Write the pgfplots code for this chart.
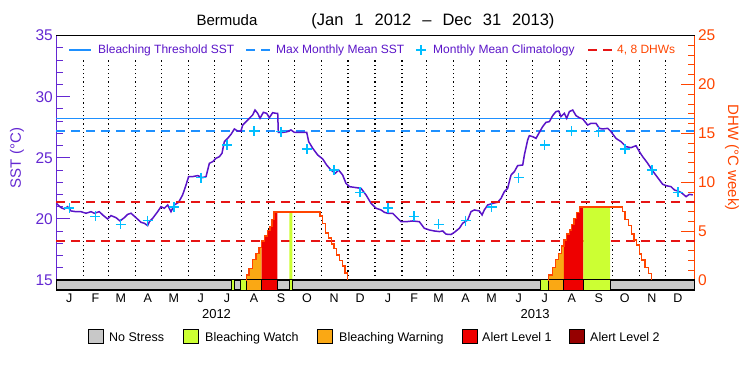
\documentclass[border=0pt]{standalone}
\usepackage{pgfplots}
\pgfplotsset{compat=1.18}
\usepackage{fontspec}
\setmainfont{Liberation Sans}

\definecolor{sstc}{RGB}{90,20,200}
\definecolor{axl}{RGB}{100,40,210}
\definecolor{dhwc}{RGB}{255,69,0}
\definecolor{redd}{RGB}{230,20,20}
\definecolor{btc}{RGB}{30,144,255}
\definecolor{climc}{RGB}{0,190,255}
\definecolor{nsgray}{RGB}{200,200,200}
\definecolor{bwatch}{RGB}{204,255,51}
\definecolor{bwarn}{RGB}{250,168,20}
\definecolor{alone}{RGB}{238,0,0}
\definecolor{altwo}{RGB}{150,0,0}

\newcommand{\fs}[1]{\fontsize{#1}{#1}\selectfont}

\begin{document}
\begin{tikzpicture}
\path[use as bounding box] (-56.3bp,-85bp) rectangle (693.7bp,290bp);

% ---------------- SST axis (left) ----------------
\begin{axis}[
  at={(0,0)}, anchor=south west,
  scale only axis, width=638.2bp, height=254.4bp,
  xmin=0, xmax=733, ymin=14.18, ymax=35,
  clip=false,
  axis x line*=bottom, axis y line*=left,
  x axis line style={draw=none},
  xtick={15,45,74,105,135,166,196,227,258,288,319,349,381,411,439,470,500,531,561,592,623,653,684,714},
  xticklabels={J,F,M,A,M,J,J,A,S,O,N,D,J,F,M,A,M,J,J,A,S,O,N,D},
  xtick style={draw=none},
  xticklabel style={font=\fs{12.5bp}, anchor=north, inner sep=0pt, yshift=-3.5bp},
  ytick={15,20,25,30,35},
  minor ytick={16,17,18,19,21,22,23,24,26,27,28,29,31,32,33,34},
  tick align=inside, major tick length=14bp, minor tick length=7bp,
  y axis line style={axl, line width=1bp},
  ytick style={axl, line width=1bp},
  yticklabel style={font=\fs{15.5bp}, text=axl},
  /pgf/number format/assume math mode=true,
  ylabel={SST (°C)},
  ylabel style={font=\fs{15bp}, text=axl, at={(axis description cs:-0.0616,0.519)}, anchor=center},
]
% month boundaries
\pgfplotsinvokeforeach{31,60,91,121,152,182,213,244,274,305,335,366,397,425,456,486,517,547,578,609,639,670,700}{
  \addplot[black, line width=1.2bp, dash pattern=on 1.2bp off 3bp] coordinates {(#1,15) (#1,33.2)};
}
% bleaching threshold and MMM
\addplot[btc, line width=1.5bp] coordinates {(0,28.2) (733,28.2)};
\addplot[btc, line width=1.5bp, dash pattern=on 9bp off 6bp] coordinates {(0,27.2) (733,27.2)};
% SST
\addplot[sstc, line width=1.5bp] coordinates {
(0,21.27) (5.4,20.92) (9.2,20.81) (13,21.0) (16.9,20.65) (22.6,20.59) (28.4,20.59) (34.1,20.46)
(39.9,20.59) (43.7,20.46) (49.4,20.59) (53.3,20.32) (59,19.99) (62.8,20.27) (68.6,20.1) (73.2,19.83)
(78.1,20.1) (82,20.37) (85.8,20.46) (91.5,20.1) (97.3,19.72) (101.1,19.64) (104.9,19.45) (106.9,19.77)
(110.7,20.05) (116.4,20.59) (120.3,21.0) (124.1,20.87) (127.9,21.14) (131.7,20.59) (135.6,21.14) (140.5,21.36)
(145.1,21.96) (149,22.78) (152,23.46) (156.6,23.46) (162.4,23.54) (168.1,23.38) (172,23.46) (175.8,24.55)
(179.6,24.68) (183.4,24.96) (187.3,25.09) (190.3,25.37) (193,26.32) (196.8,26.59) (200.7,26.92) (204.5,27.36)
(208.3,27.19) (212.1,27.19) (214.1,27.68) (219.8,28.09) (225.5,28.5) (228.2,28.91) (231.3,28.64) (234,28.23)
(237.8,28.72) (241.6,28.64) (244.7,28.28) (248.5,28.69) (252.3,28.64) (254.3,28.64) (255,27.08) (260,27.08)
(265.7,27.14) (269.6,27.28) (273.4,27.08) (279.1,27.08) (287.6,27.08) (289.9,26.32) (294.5,25.78) (300.2,25.23)
(306,24.9) (310.5,24.41) (315.5,24.0) (320.5,23.73) (324.3,24.0) (328.9,23.59) (332.7,22.91) (336.6,22.64)
(344.2,22.56) (350,22.5) (355.7,21.96) (361.5,21.27) (367.2,20.87) (373,20.73) (376.8,20.54) (380.6,20.46)
(386.3,20.46) (392.1,20.05) (395.9,19.77) (401.7,19.77) (409.3,19.83) (417,19.77) (422.7,19.23) (428.5,19.09)
(434.2,19.01) (440,18.96) (443.8,19.01) (447.6,18.75) (453.3,18.72) (457.2,18.9) (462.9,19.23) (466.7,19.64)
(472.5,19.91) (476.3,20.59) (480.1,20.73) (485.9,20.65) (489,20.32) (491.6,20.73) (495.5,21.14) (501.2,21.27)
(507,21.36) (510.8,21.68) (514.6,22.23) (518.4,22.5) (520.3,23.05) (522.3,23.59) (526.1,23.87) (529.9,24.36)
(535.7,24.41) (537.6,25.23) (541.4,26.46) (543.3,26.81) (547.1,26.73) (551,26.59) (554.8,27.08) (558.6,27.55)
(562.4,27.9) (566.3,27.96) (570.1,28.45) (573.9,28.78) (577,28.83) (579.7,28.37) (583.5,28.64) (586.2,28.23)
(589.3,28.78) (593.1,28.91) (596.9,28.45) (600.7,28.28) (604.6,28.18) (610.3,27.68) (614.1,27.82) (619.9,27.82)
(623.7,27.41) (627.5,27.36) (633.3,27.41) (637.1,27.14) (642.8,26.59) (648.6,26.32) (654.3,25.91) (660.1,25.83)
(665.8,25.99) (669.7,25.5) (673.5,25.09) (679.2,24.55) (685,23.92) (690.7,23.38) (696.5,22.83) (700.3,22.72)
(706,22.64) (709.9,22.37) (713.7,22.28) (717.5,22.17) (723.3,21.82) (727.1,22.01) (731,21.96)
};
% climatology
\addplot[only marks, mark=+, mark size=5bp, climc, mark options={line width=1.4bp}] coordinates {
(15,20.89) (45,20.2) (74,19.56) (105,19.85) (135,20.96) (166,23.38) (196,26.05) (227,27.19) (258,27.14) (288,25.72) (319,24.0) (349,22.17)
(381,20.89) (411,20.2) (439,19.56) (470,19.85) (500,20.96) (531,23.38) (561,26.05) (592,27.19) (623,27.14) (653,25.72) (684,24.0) (714,22.17)
};
\node[font=\fs{13bp}, anchor=north, inner sep=0pt] at (axis cs:184,14.18) [yshift=-19.5bp] {2012};
\node[font=\fs{13bp}, anchor=north, inner sep=0pt] at (axis cs:550,14.18) [yshift=-19.5bp] {2013};
\end{axis}

% ---------------- DHW axis (right) ----------------
\begin{axis}[
  at={(0,0)}, anchor=south west,
  scale only axis, width=638.2bp, height=254.4bp,
  xmin=0, xmax=733, ymin=-1.023, ymax=25,
  clip=false,
  axis x line=none, axis y line*=right,
  ytick={0,5,10,15,20,25},
  minor ytick={1,2,3,4,6,7,8,9,11,12,13,14,16,17,18,19,21,22,23,24},
  tick align=inside, major tick length=14bp, minor tick length=7bp,
  y axis line style={dhwc, line width=1bp},
  ytick style={dhwc, line width=1bp},
  yticklabel style={font=\fs{15.5bp}, text=dhwc},
  /pgf/number format/assume math mode=true,
  ylabel={DHW (°C week)},
  ylabel style={font=\fs{15bp}, text=dhwc, at={(axis description cs:1.0588,0.52)}, anchor=center, rotate=180},
]
% 4 and 8 DHW lines
\addplot[redd, line width=1.8bp, dash pattern=on 9bp off 6bp] coordinates {(0,4) (733,4)};
\addplot[redd, line width=1.8bp, dash pattern=on 9bp off 6bp] coordinates {(0,8) (733,8)};
% fills under DHW by alert level
\addplot[const plot, fill=bwarn, draw=none] coordinates {(218.5,0.5) (221.3,1.2) (225.6,2.1) (229.4,2.7) (232.8,3.35) (235.9,3.35)} \closedcycle;
\addplot[const plot, fill=alone, draw=none] coordinates {(235.9,4.0) (239.3,4.5) (242.3,5.05) (245.4,5.5) (247.7,6.2) (250,6.95) (253.8,6.95)} \closedcycle;
\addplot[const plot, fill=bwatch, draw=none] coordinates {(267.6,6.95) (271,6.95)} \closedcycle;
\addplot[const plot, fill=bwarn, draw=none] coordinates {(565.3,0.5) (569.7,1.3) (573.6,2.1) (577,2.73) (580.5,3.48) (583.1,3.48)} \closedcycle;
\addplot[const plot, fill=alone, draw=none] coordinates {(583.1,4.1) (586.2,4.7) (589.2,5.1) (592,5.7) (594.6,6.3) (597.7,6.9) (600.7,7.45) (605.3,7.45)} \closedcycle;
\addplot[const plot, fill=bwatch, draw=none] coordinates {(605.3,7.45) (636,7.45)} \closedcycle;
% status bar
\addplot[fill=nsgray, draw=black, line width=1.4bp] coordinates {(0,-1.023) (733,-1.023) (733,0) (0,0)} -- cycle;
\addplot[fill=bwatch, draw=black, line width=1bp] coordinates {(201.4,-1.023) (204.4,-1.023) (204.4,0) (201.4,0)} -- cycle;
\addplot[fill=bwatch, draw=black, line width=1bp] coordinates {(211.8,-1.023) (218.5,-1.023) (218.5,0) (211.8,0)} -- cycle;
\addplot[fill=bwarn, draw=black, line width=1bp] coordinates {(218.5,-1.023) (235.9,-1.023) (235.9,0) (218.5,0)} -- cycle;
\addplot[fill=alone, draw=black, line width=1bp] coordinates {(235.9,-1.023) (253.8,-1.023) (253.8,0) (235.9,0)} -- cycle;
\addplot[fill=bwatch, draw=black, line width=1bp] coordinates {(267.6,-1.023) (271,-1.023) (271,0) (267.6,0)} -- cycle;
\addplot[fill=bwatch, draw=black, line width=1bp] coordinates {(556.3,-1.023) (565.3,-1.023) (565.3,0) (556.3,0)} -- cycle;
\addplot[fill=bwarn, draw=black, line width=1bp] coordinates {(565.3,-1.023) (583.1,-1.023) (583.1,0) (565.3,0)} -- cycle;
\addplot[fill=alone, draw=black, line width=1bp] coordinates {(583.1,-1.023) (605.3,-1.023) (605.3,0) (583.1,0)} -- cycle;
\addplot[fill=bwatch, draw=black, line width=1bp] coordinates {(605.3,-1.023) (636,-1.023) (636,0) (605.3,0)} -- cycle;
% DHW line
\addplot[const plot, dhwc, line width=1.4bp] coordinates {
(218.4,0) (218.5,0.5) (221.3,1.2) (225.6,2.1) (229.4,2.7) (232.8,3.35) (235.9,4.0) (239.3,4.5) (242.3,5.05)
(245.4,5.5) (247.7,6.2) (250,6.95) (302.9,6.55) (306,5.8) (309.4,4.8) (312.4,4.3) (316.3,3.7) (318.9,3.25)
(322,2.55) (325,2.0) (328.5,1.45) (331.6,0.7) (334.2,0) };
\addplot[const plot, dhwc, line width=1.4bp] coordinates {
(565.2,0) (565.3,0.5) (569.7,1.3) (573.6,2.1) (577,2.73) (580.5,3.48) (583.1,4.1) (586.2,4.7) (589.2,5.1)
(592,5.7) (594.6,6.3) (597.7,6.9) (600.7,7.45) (650.1,7.0) (653.1,6.2) (656.9,5.6) (660.8,4.7) (663.5,4.1)
(666.6,3.58) (669.6,2.66) (672.3,2.05) (676.1,1.3) (679.9,0.68) (683.8,0) };
\draw[black, line width=1.4bp] (rel axis cs:0,1) -- (rel axis cs:1,1);
\end{axis}

% ---------------- title ----------------
\node[anchor=base, inner sep=0pt] at (319.2bp,264.5bp)
  {\fs{15bp}Bermuda\hspace{54bp}{\fs{16.5bp}\spaceskip=11bp (Jan 1 2012 – Dec 31 2013)}};

% ---------------- top legend ----------------
\draw[btc, line width=1.5bp] (12.7bp,240bp) -- (34.7bp,240bp);
\node[anchor=base west, inner sep=0pt, text=sstc, font=\fs{12bp}] at (41.7bp,236bp) {Bleaching Threshold SST};
\draw[btc, line width=1.5bp, dash pattern=on 9bp off 6bp] (189.7bp,240bp) -- (213.7bp,240bp);
\node[anchor=base west, inner sep=0pt, text=sstc, font=\fs{12bp}] at (219.7bp,236bp) {Max Monthly Mean SST};
\draw[climc, line width=1.4bp] (359.7bp,240bp) -- (369.7bp,240bp) (364.7bp,235bp) -- (364.7bp,245bp);
\node[anchor=base west, inner sep=0pt, text=sstc, font=\fs{12bp}] at (376.7bp,236bp) {Monthly Mean Climatology};
\draw[redd, line width=1.8bp, dash pattern=on 9bp off 6bp] (531.7bp,240bp) -- (555.7bp,240bp);
\node[anchor=base west, inner sep=0pt, text=dhwc, font=\fs{12bp}] at (560.7bp,236bp) {4, 8 DHWs};

% ---------------- bottom legend ----------------
\draw[fill=nsgray, line width=0.8bp] (31.7bp,-53bp) rectangle (46.7bp,-39bp);
\node[anchor=base west, inner sep=0pt, font=\fs{12.5bp}] at (52.7bp,-51bp) {No Stress};
\draw[fill=bwatch, line width=0.8bp] (126.7bp,-53bp) rectangle (141.7bp,-39bp);
\node[anchor=base west, inner sep=0pt, font=\fs{12.5bp}] at (148.7bp,-51bp) {Bleaching Watch};
\draw[fill=bwarn, line width=0.8bp] (260.7bp,-53bp) rectangle (275.7bp,-39bp);
\node[anchor=base west, inner sep=0pt, font=\fs{12.5bp}] at (282.7bp,-51bp) {Bleaching Warning};
\draw[fill=alone, line width=0.8bp] (405.7bp,-53bp) rectangle (420.7bp,-39bp);
\node[anchor=base west, inner sep=0pt, font=\fs{12.5bp}] at (425.7bp,-51bp) {Alert Level 1};
\draw[fill=altwo, line width=0.8bp] (512.7bp,-53bp) rectangle (527.7bp,-39bp);
\node[anchor=base west, inner sep=0pt, font=\fs{12.5bp}] at (533.7bp,-51bp) {Alert Level 2};
\end{tikzpicture}
\end{document}
